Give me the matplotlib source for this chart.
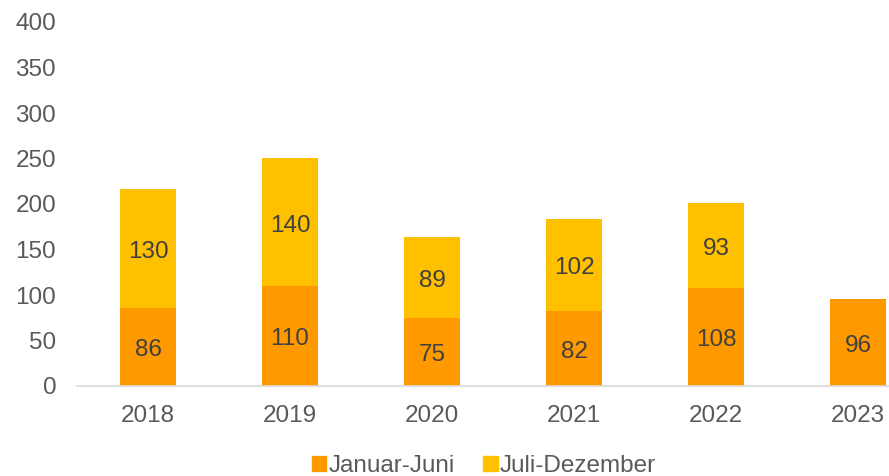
import matplotlib
matplotlib.use("Agg")
import matplotlib.pyplot as plt
from matplotlib.patches import Patch
from matplotlib.transforms import offset_copy

years = ["2018", "2019", "2020", "2021", "2022", "2023"]
jan_jun = [86, 110, 75, 82, 108, 96]
jul_dez = [130, 140, 89, 102, 93, None]
yticks = [0, 50, 100, 150, 200, 250, 300, 350, 400]

plt.rcParams['font.family'] = ['Liberation Sans', 'DejaVu Sans']
c1 = '#FF9900'
c2 = '#FFC000'
tc = '#595959'
fs = 17.5

fig = plt.figure(figsize=(8.89, 4.76), dpi=100)
ax = fig.add_axes([77/889, 90/476, 852/889, 364/476])
x = list(range(len(years)))
ax.bar(x, jan_jun, width=0.4, color=c1)
jd = [v if v is not None else 0 for v in jul_dez]
ax.bar(x, jd, width=0.4, bottom=jan_jun, color=c2)

tr = offset_copy(ax.transData, fig=fig, x=0, y=-2.5, units='points')
for i in x:
    ax.text(i, jan_jun[i] / 2, str(jan_jun[i]), ha='center', va='center', fontsize=fs,
            color='#404040', transform=tr)
    if jul_dez[i] is not None:
        ax.text(i, jan_jun[i] + jul_dez[i] / 2, str(jul_dez[i]), ha='center', va='center',
                fontsize=fs, color='#404040', transform=tr)

ax.set_xlim(-0.5, len(years) - 0.5)
ax.set_ylim(0, 400)
ax.set_yticks(yticks)
ax.set_xticks(x)
ax.set_xticklabels(years)
for s in ['top', 'right', 'left']:
    ax.spines[s].set_visible(False)
ax.spines['bottom'].set_color('#D9D9D9')
ax.spines['bottom'].set_linewidth(1.2)
ax.tick_params(axis='both', length=0, labelsize=fs, labelcolor=tc)
ax.tick_params(axis='y', pad=15)
ax.tick_params(axis='x', pad=14)

handles = [Patch(color=c1, label='Januar-Juni'), Patch(color=c2, label='Juli-Dezember')]
leg = fig.legend(handles=handles, loc='center', bbox_to_anchor=(484/889, 1 - 466/476), ncol=2,
                 frameon=False, fontsize=fs, handlelength=0.6, handleheight=0.6,
                 handletextpad=0.1, columnspacing=1.15)
for t in leg.get_texts():
    t.set_color(tc)

fig.savefig('out.png', dpi=100)
